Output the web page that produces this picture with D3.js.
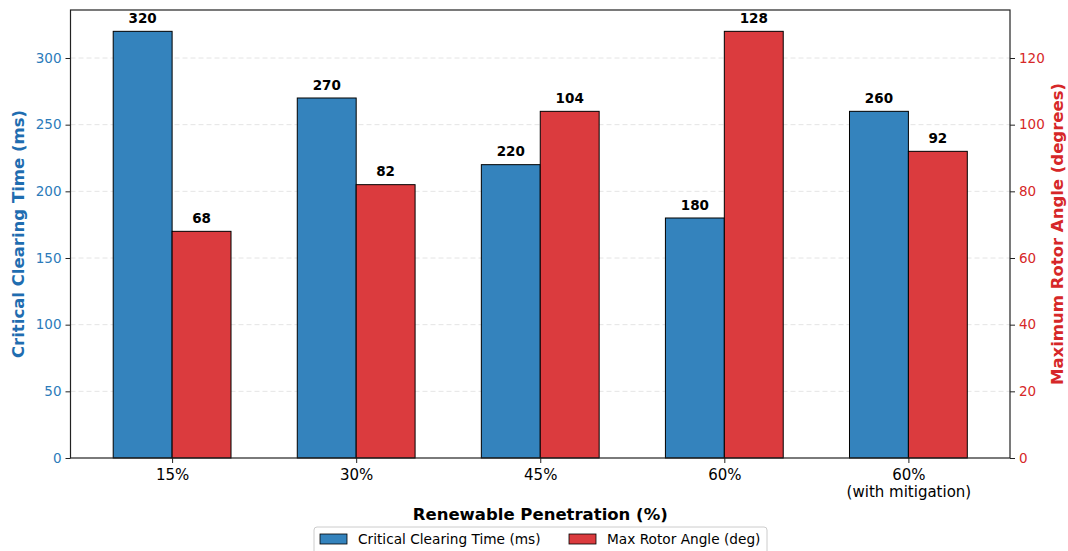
<!DOCTYPE html>
<html><head><meta charset="utf-8">
<script src="https://cdn.jsdelivr.net/npm/d3@7"></script>
<style>body{margin:0;background:#fff}text{font-family:"DejaVu Sans",sans-serif}</style>
</head><body><svg id="c" width="1068" height="551"></svg>
<script>
const categories = ["15%", "30%", "45%", "60%", "60%\n(with mitigation)"];
const cctValues = [320, 270, 220, 180, 260];
const rotorValues = [68, 82, 104, 128, 92];
const leftTicks = [0, 50, 100, 150, 200, 250, 300];
const rightTicks = [0, 20, 40, 60, 80, 100, 120];
const seriesNames = ["Critical Clearing Time (ms)", "Max Rotor Angle (deg)"];

const svg = d3.select("#c");
const L = 70.5, R = 1010, T = 10, B = 458;
const w = 0.32;
const x = d3.scaleLinear().domain([-0.552, categories.length - 1 + 0.552]).range([L, R]);
const yL = d3.scaleLinear().domain([0, 336]).range([B, T]);
const yR = d3.scaleLinear().domain([0, 134.4]).range([B, T]);
const blue = "#3483bd", red = "#db3b3e";
const blueText = "#2b7bba", redText = "#d62728";

// grid
svg.append("g").selectAll("line").data(leftTicks.filter(d => d > 0)).join("line")
  .attr("x1", L).attr("x2", R).attr("y1", d => yL(d)).attr("y2", d => yL(d))
  .attr("stroke", "#dddddd").attr("stroke-dasharray", "5,3").attr("stroke-width", 0.8);

// bars
svg.append("g").selectAll("rect").data(cctValues).join("rect")
  .attr("x", (d, i) => x(i - w)).attr("width", (d, i) => x(i) - x(i - w))
  .attr("y", d => yL(d)).attr("height", d => B - yL(d))
  .attr("fill", blue).attr("stroke", "#000").attr("stroke-width", 1);
svg.append("g").selectAll("rect").data(rotorValues).join("rect")
  .attr("x", (d, i) => x(i)).attr("width", (d, i) => x(i + w) - x(i))
  .attr("y", d => yR(d)).attr("height", d => B - yR(d))
  .attr("fill", red).attr("stroke", "#000").attr("stroke-width", 1);

// value labels
svg.append("g").selectAll("text").data(cctValues).join("text")
  .attr("x", (d, i) => x(i - w / 2)).attr("y", d => yL(d) - 8.5)
  .attr("text-anchor", "middle").attr("font-size", 13.5).attr("font-weight", "bold").text(d => d);
svg.append("g").selectAll("text").data(rotorValues).join("text")
  .attr("x", (d, i) => x(i + w / 2)).attr("y", d => yR(d) - 8.5)
  .attr("text-anchor", "middle").attr("font-size", 13.5).attr("font-weight", "bold").text(d => d);

// axes
const gl = svg.append("g").attr("transform", `translate(${L},0)`)
  .call(d3.axisLeft(yL).tickValues(leftTicks).tickSize(5).tickPadding(4));
gl.select(".domain").remove();
gl.selectAll("text").attr("fill", blueText).attr("font-size", 13.5).style("font-family", "DejaVu Sans");
gl.selectAll("line").attr("stroke", "#222");

const gr = svg.append("g").attr("transform", `translate(${R},0)`)
  .call(d3.axisRight(yR).tickValues(rightTicks).tickSize(5).tickPadding(4));
gr.select(".domain").remove();
gr.selectAll("text").attr("fill", redText).attr("font-size", 13.5).style("font-family", "DejaVu Sans");
gr.selectAll("line").attr("stroke", "#222");

const gx = svg.append("g").attr("transform", `translate(0,${B})`)
  .call(d3.axisBottom(x).tickValues(d3.range(categories.length)).tickSize(5).tickFormat(""));
gx.select(".domain").remove();
gx.selectAll("line").attr("stroke", "#222");
gx.selectAll(".tick").each(function(d) {
  const lines = categories[d].split("\n");
  const t = d3.select(this).append("text").attr("fill", "#000").attr("font-size", 15)
    .attr("text-anchor", "middle").style("font-family", "DejaVu Sans");
  lines.forEach((s, j) => t.append("tspan").attr("x", 0).attr("y", 21.5 + j * 17.5).text(s));
});

// frame
svg.append("rect").attr("x", L).attr("y", T).attr("width", R - L).attr("height", B - T)
  .attr("fill", "none").attr("stroke", "#222").attr("stroke-width", 1.2);

// axis titles
svg.append("text").attr("transform", `translate(24,${(T + B) / 2}) rotate(-90)`)
  .attr("text-anchor", "middle").attr("font-size", 16.5).attr("font-weight", "bold")
  .attr("fill", "#1f6db0").text("Critical Clearing Time (ms)");
svg.append("text").attr("transform", `translate(1063,${(T + B) / 2}) rotate(-90)`)
  .attr("text-anchor", "middle").attr("font-size", 16.5).attr("font-weight", "bold")
  .attr("fill", redText).text("Maximum Rotor Angle (degrees)");
svg.append("text").attr("x", (L + R) / 2).attr("y", 520).attr("text-anchor", "middle")
  .attr("font-size", 16.5).attr("font-weight", "bold").text("Renewable Penetration (%)");

// legend
const lg = svg.append("g");
lg.append("rect").attr("x", 314).attr("y", 527).attr("width", 453).attr("height", 30)
  .attr("rx", 3).attr("fill", "#fff").attr("stroke", "#ccc");
const items = [{n: seriesNames[0], c: blue, x: 320}, {n: seriesNames[1], c: red, x: 569}];
items.forEach(it => {
  lg.append("rect").attr("x", it.x).attr("y", 534).attr("width", 27).attr("height", 10)
    .attr("fill", it.c).attr("stroke", "#000").attr("stroke-width", 0.8);
  lg.append("text").attr("x", it.x + 38).attr("y", 544).attr("font-size", 13.7).text(it.n);
});
</script></body></html>
